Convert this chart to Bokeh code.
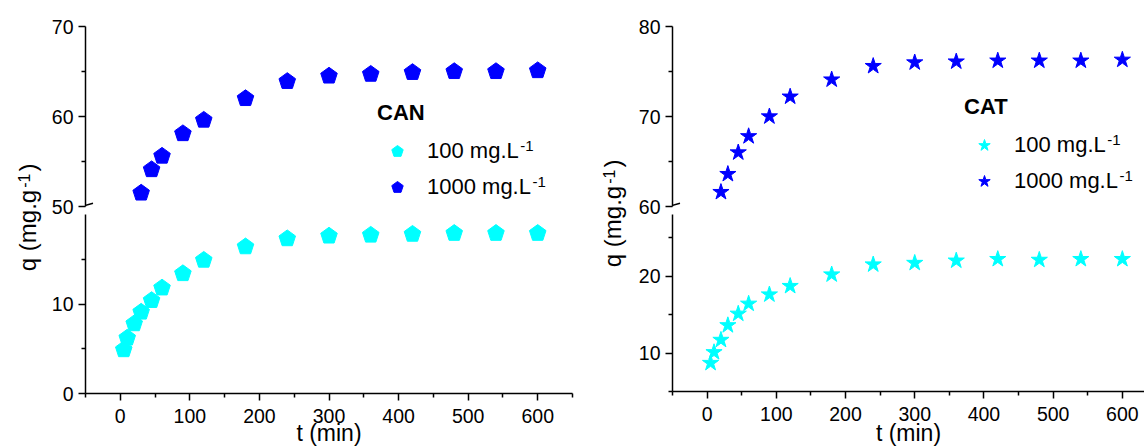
import math
from bokeh.plotting import figure
from bokeh.layouts import row, column
from bokeh.models import Range1d, FixedTicker, Label, Legend, LegendItem, Arrow
from bokeh.embed import file_html
from bokeh.resources import INLINE

# Adsorption kinetics: uptake q (mg/g) against contact time t (min)
t_min = [5, 10, 20, 30, 45, 60, 90, 120, 180, 240, 300, 360, 420, 480, 540, 600]
t_can_1000 = t_min[3:]
t_cat_1000 = t_min[2:]

can_100 = [4.9, 6.2, 7.8, 9.1, 10.4, 11.8, 13.4, 14.9, 16.4, 17.3, 17.6, 17.7, 17.8, 17.9, 17.9, 17.9]
can_1000 = [51.5, 54.1, 55.6, 58.1, 59.6, 62.0, 63.9, 64.5, 64.7, 64.9, 65.0, 65.0, 65.1]
cat_100 = [8.7, 10.1, 11.7, 13.6, 15.1, 16.4, 17.6, 18.7, 20.2, 21.5, 21.7, 22.0, 22.2, 22.1, 22.2, 22.2]
cat_1000 = [61.6, 63.6, 66.0, 67.8, 70.0, 72.2, 74.1, 75.6, 76.0, 76.1, 76.2, 76.2, 76.2, 76.3]

x_ticks = [0, 100, 200, 300, 400, 500, 600]
x_minor_ticks = [-50, 50, 150, 250, 350, 450, 550, 650]
can_low_ticks, can_low_minor = [0, 10], [5, 15]
can_high_ticks, can_high_minor = [50, 60, 70], [55, 65]
cat_low_ticks, cat_low_minor = [10, 20], [5, 15, 25]
cat_high_ticks, cat_high_minor = [60, 70, 80], [65, 75]

series_labels = ["100 mg.L", "1000 mg.L"]
unit_exponent = "-1"
x_title = "t (min)"
y_title = "q (mg.g"

FONT = "Liberation Sans"
INK = "#000000"
CYAN = "#00FFFF"
BLUE = "#0000FF"

H = 448
FRAME_TOP = 26
HIGH_BOTTOM = 206   # lower end of the upper segment
UPPER_H = 214       # canvas height of the upper segment figures
TICK_FS = "19.5px"
LEG_FS = 22
TITLE_FS = 24
SUP_FS = 15

ADV = {'0': 556, '1': 556, ' ': 278, 'm': 833, 'g': 556, '.': 278, 'L': 556,
       'q': 556, '(': 333, ')': 333, '-': 333, 't': 278, 'i': 222, 'n': 556}


def text_width(s, size):
    return sum(ADV.get(c, 556) for c in s) / 1000.0 * size


def style_axes(p):
    for ax in p.axis:
        ax.axis_line_color = INK
        ax.axis_line_width = 1.5
        ax.major_tick_line_color = INK
        ax.minor_tick_line_color = INK
        ax.major_tick_line_width = 1.5
        ax.minor_tick_line_width = 1.5
        ax.major_tick_in = 0
        ax.major_tick_out = 7
        ax.minor_tick_in = 0
        ax.minor_tick_out = 4
        ax.major_label_text_font = FONT
        ax.major_label_text_font_size = TICK_FS
        ax.major_label_text_color = INK
        ax.major_label_standoff = 5


def seg_figure(width, height, x_range, y0, y1, ticks, minor, b_left, b_top, b_bottom, b_right, with_x):
    p = figure(width=width, height=height, x_range=x_range, y_range=Range1d(y0, y1),
               output_backend="svg", toolbar_location=None,
               x_axis_location="below" if with_x else None,
               min_border_left=b_left, min_border_right=b_right,
               min_border_top=b_top, min_border_bottom=b_bottom)
    p.outline_line_color = None
    p.grid.visible = False
    p.background_fill_color = "white"
    p.border_fill_color = "white"
    p.yaxis.ticker = FixedTicker(ticks=ticks, minor_ticks=minor)
    style_axes(p)
    if with_x:
        p.xaxis.ticker = FixedTicker(ticks=x_ticks, minor_ticks=x_minor_ticks)
        p.xaxis.major_label_standoff = 8
    return p


def strip_figure(width):
    s = figure(width=width, height=H, x_range=Range1d(0, width), y_range=Range1d(H, 0),
               output_backend="svg", toolbar_location=None,
               x_axis_location=None, y_axis_location=None,
               min_border_left=0, min_border_right=0, min_border_top=0, min_border_bottom=0)
    s.outline_line_color = None
    s.grid.visible = False
    s.border_fill_color = "white"
    return s


def mapper(p, fx, fy, fw, fh):
    xr, yr = p.x_range, p.y_range

    def to_data(px, py):
        x = xr.start + (px - fx) * (xr.end - xr.start) / fw
        y = yr.end - (py - fy) * (yr.end - yr.start) / fh
        return x, y
    return to_data


def add_marks(p, x, y, color, kind):
    if kind == "pentagon":
        return p.ngon(x=x, y=y, radius=8.7, radius_units="screen", n=5,
                      angle=0, fill_color=color, line_color=color)
    return p.scatter(x=x, y=y, marker="star", size=17, fill_color=color, line_color=color)


PANELS = [
    dict(name="CAN", strip_w=46, fig_w=544, border_left=39, frame_w=487, x_end=650,
         low_bottom=393, low=(0, 20), high=(50, 70),
         low_ticks=can_low_ticks, low_minor=can_low_minor,
         high_ticks=can_high_ticks, high_minor=can_high_minor,
         t_low=t_min, q_low=can_100, t_high=t_can_1000, q_high=can_1000, kind="pentagon",
         legend_left=377, legend_bottom=202, ylab_x=35.8, ylab_start=270.7, xlab_standoff=-6),
    dict(name="CAT", strip_w=40, fig_w=514, border_left=42, frame_w=472, x_end=632,
         low_bottom=391, low=(5, 28), high=(60, 80),
         low_ticks=cat_low_ticks, low_minor=cat_low_minor,
         high_ticks=cat_high_ticks, high_minor=cat_high_minor,
         t_low=t_min, q_low=cat_100, t_high=t_cat_1000, q_high=cat_1000, kind="star",
         legend_left=964, legend_bottom=196, ylab_x=30.5, ylab_start=266.7, xlab_standoff=-4),
]


def build_panel(spec, strip_x):
    fig_x = strip_x + spec["strip_w"]
    frame_x = fig_x + spec["border_left"]
    b_right = spec["fig_w"] - spec["border_left"] - spec["frame_w"]
    x_range = Range1d(-50, spec["x_end"])

    upper = seg_figure(spec["fig_w"], UPPER_H, x_range, spec["high"][0], spec["high"][1],
                       spec["high_ticks"], spec["high_minor"], spec["border_left"],
                       FRAME_TOP, UPPER_H - HIGH_BOTTOM, b_right, False)
    lower = seg_figure(spec["fig_w"], H - UPPER_H, x_range, spec["low"][0], spec["low"][1],
                       spec["low_ticks"], spec["low_minor"], spec["border_left"],
                       0, H - spec["low_bottom"], b_right, True)

    lower.xaxis.axis_label = x_title
    lower.xaxis.axis_label_text_font = FONT
    lower.xaxis.axis_label_text_font_size = "23px"
    lower.xaxis.axis_label_text_font_style = "normal"
    lower.xaxis.axis_label_text_color = INK
    lower.xaxis.axis_label_standoff = spec["xlab_standoff"]

    add_marks(lower, spec["t_low"], spec["q_low"], CYAN, spec["kind"])
    r_high = add_marks(upper, spec["t_high"], spec["q_high"], BLUE, spec["kind"])
    # the low-concentration series again in the upper segment: its values lie below
    # this segment's range, so it only supplies the legend swatch
    r_low_key = add_marks(upper, spec["t_low"], spec["q_low"], CYAN, spec["kind"])

    up_map = mapper(upper, frame_x, FRAME_TOP, spec["frame_w"], HIGH_BOTTOM - FRAME_TOP)

    glyph_w, row_h, standoff, spacing = 40, 30, 10, 6
    legend = Legend(
        items=[LegendItem(label=series_labels[0], renderers=[r_low_key]),
               LegendItem(label=series_labels[1], renderers=[r_high])],
        title=spec["name"], title_text_font=FONT, title_text_font_style="bold",
        title_text_font_size=f"{LEG_FS}px", title_text_color=INK, title_standoff=10,
        label_text_font=FONT, label_text_font_size=f"{LEG_FS}px", label_text_color=INK,
        glyph_width=glyph_w, glyph_height=row_h, label_height=row_h, label_standoff=standoff,
        spacing=spacing, padding=0, margin=0, border_line_color=None, background_fill_alpha=0,
        location=(spec["legend_left"] - frame_x, HIGH_BOTTOM - spec["legend_bottom"]))
    upper.add_layout(legend)

    text_left = spec["legend_left"] + glyph_w + standoff
    for i, lab in enumerate(series_labels):
        row_center = spec["legend_bottom"] - row_h / 2 - (1 - i) * (row_h + spacing)
        sx, sy = up_map(text_left + text_width(lab, LEG_FS) + 1, row_center - 6)
        upper.add_layout(Label(x=sx, y=sy, text=unit_exponent, text_font=FONT,
                               text_font_size=f"{SUP_FS}px", text_color=INK,
                               text_baseline="alphabetic", text_align="left"))

    # axis break marks
    for y_a, y_b in [(206.7, 202.7), (212.3, 208.7)]:
        x0, y0 = up_map(frame_x - 6.5, y_a)
        x1, y1 = up_map(frame_x + 7.5, y_b)
        upper.add_layout(Arrow(x_start=x0, y_start=y0, x_end=x1, y_end=y1, end=None,
                               line_color=INK, line_width=1.5))

    # y-axis title in a narrow strip; anchored on the descender line of the rotated text
    strip = strip_figure(spec["strip_w"])
    descent = 0.212 * TITLE_FS
    bx, by = spec["ylab_x"] + descent, spec["ylab_start"]
    strip.add_layout(Label(x=bx, y=by, text=y_title, angle=math.pi / 2, text_font=FONT,
                           text_font_size=f"{TITLE_FS}px", text_color=INK,
                           text_align="left", text_baseline="bottom"))
    sup_y = by - text_width(y_title, TITLE_FS) - 2
    strip.add_layout(Label(x=bx - 11, y=sup_y, text=unit_exponent, angle=math.pi / 2,
                           text_font=FONT, text_font_size=f"{SUP_FS + 1}px", text_color=INK,
                           text_align="left", text_baseline="bottom"))
    strip.add_layout(Label(x=bx, y=sup_y - text_width(unit_exponent, SUP_FS + 1) - 2, text=")",
                           angle=math.pi / 2, text_font=FONT, text_font_size=f"{TITLE_FS}px",
                           text_color=INK, text_align="left", text_baseline="bottom"))

    return row(strip, column(upper, lower, spacing=0), spacing=0)


left = build_panel(PANELS[0], 0)
right = build_panel(PANELS[1], 590)
layout = row(left, right, spacing=0)

open("out.html", "w").write(file_html(layout, INLINE))
